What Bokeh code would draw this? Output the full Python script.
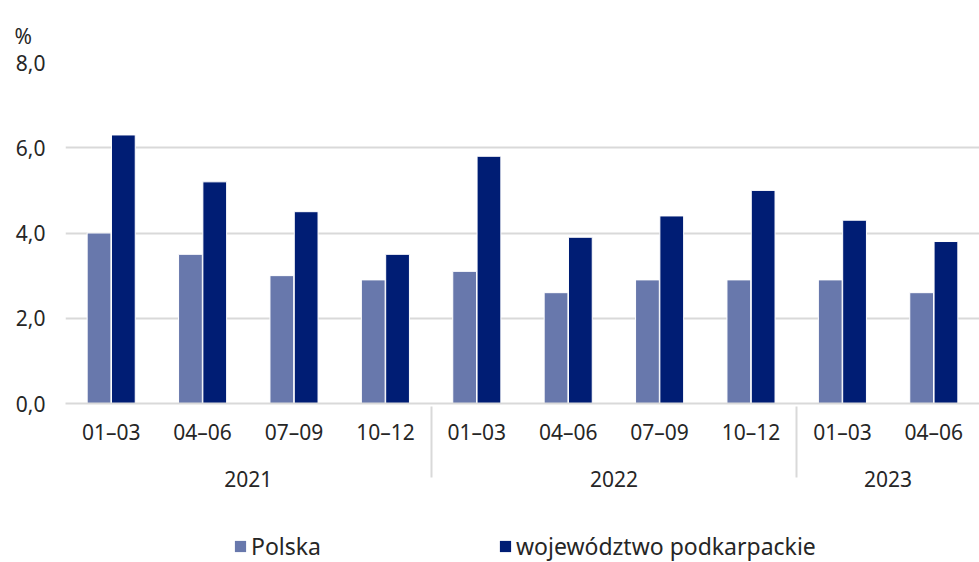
from bokeh.plotting import figure
from bokeh.layouts import column
from bokeh.models import ColumnDataSource, FactorRange, Range1d, FixedTicker, Legend, LegendItem
from bokeh.transform import dodge
from bokeh.embed import file_html
from bokeh.resources import INLINE

years = ["2021", "2021", "2021", "2021", "2022", "2022", "2022", "2022", "2023", "2023"]
quarters = ["01–03", "04–06", "07–09", "10–12", "01–03", "04–06", "07–09", "10–12", "01–03", "04–06"]
polska = [4.0, 3.5, 3.0, 2.9, 3.1, 2.6, 2.9, 2.9, 2.9, 2.6]
podkarpackie = [6.3, 5.2, 4.5, 3.5, 5.8, 3.9, 4.4, 5.0, 4.3, 3.8]
y_ticks = [0, 2, 4, 6, 8]
y_tick_labels = ["0,0", "2,0", "4,0", "6,0", "8,0"]
series_names = ["Polska", "województwo podkarpackie"]

FONT = "Noto Sans"
TXT = "#262626"
GRID = "#D9D9D9"
C1 = "#6878AC"
C2 = "#001D74"

# a blank, tiny middle level adds a little room between the quarter and year rows
factors = [(y, " ", q) for y, q in zip(years, quarters)]
src = ColumnDataSource(dict(x=factors, polska=polska, podk=podkarpackie))
xr = FactorRange(*factors, group_padding=0, subgroup_padding=0, factor_padding=0, range_padding=0)

p = figure(width=979, height=520, output_backend="svg", toolbar_location=None,
           x_range=xr, y_range=Range1d(0, 8))

r1 = p.vbar(x=dodge("x", -0.133, range=p.x_range), top="polska", width=0.26, source=src,
            fill_color=C1, line_color="white", line_width=1)
r2 = p.vbar(x=dodge("x", 0.133, range=p.x_range), top="podk", width=0.26, source=src,
            fill_color=C2, line_color="white", line_width=1)

p.min_border_left = 65
p.min_border_right = 0
p.min_border_top = 62
p.min_border_bottom = 117
p.outline_line_color = None
p.background_fill_color = "white"

p.title.text = "%"
p.title.text_font = FONT
p.title.text_font_size = "21px"
p.title.text_font_style = "normal"
p.title.text_color = TXT
p.title.align = "left"
p.title.vertical_align = "top"
p.title.offset = -51
p.title.standoff = 22

p.xgrid.grid_line_color = None
p.ygrid.grid_line_color = GRID
p.ygrid.grid_line_width = 2

ya = p.yaxis[0]
ya.ticker = FixedTicker(ticks=y_ticks)
ya.major_label_overrides = {t: l for t, l in zip(y_ticks, y_tick_labels)}
ya.axis_line_color = None
ya.major_tick_line_color = None
ya.minor_tick_line_color = None
ya.major_label_text_font = FONT
ya.major_label_text_font_size = "21px"
ya.major_label_text_color = TXT
ya.major_label_standoff = 14

xa = p.xaxis[0]
xa.axis_line_color = GRID
xa.axis_line_width = 2
xa.major_tick_line_color = None
xa.minor_tick_line_color = None
xa.major_label_text_font = FONT
xa.major_label_text_font_size = "21px"
xa.major_label_text_color = TXT
xa.major_label_standoff = 8
xa.subgroup_text_font_size = "3px"
xa.subgroup_text_color = TXT
xa.group_text_font = FONT
xa.group_text_font_size = "21px"
xa.group_text_color = TXT
xa.group_text_font_style = "normal"
xa.separator_line_color = GRID
xa.separator_line_width = 2

# legend strip below the chart; its proxy bars share the data but fall far outside its y range
lg = figure(width=979, height=42, output_backend="svg", toolbar_location=None,
            x_range=xr, y_range=Range1d(50, 51),
            x_axis_location=None, y_axis_location=None,
            min_border_left=65, min_border_right=0, min_border_top=0, min_border_bottom=0)
lg.outline_line_color = None
lg.grid.grid_line_color = None
d1 = lg.vbar(x="x", top="polska", width=0.1, source=src, fill_color=C1, line_color=None)
d2 = lg.vbar(x="x", top="podk", width=0.1, source=src, fill_color=C2, line_color=None)
legend = Legend(items=[LegendItem(label=series_names[0], renderers=[d1]),
                       LegendItem(label=series_names[1], renderers=[d2])],
                orientation="horizontal", location=(168, 0),
                label_text_font=FONT, label_text_font_size="23px", label_text_color=TXT,
                glyph_width=14, glyph_height=14, label_standoff=4, spacing=177,
                border_line_color=None, background_fill_alpha=0, margin=0, padding=0)
lg.add_layout(legend, "center")

layout = column(p, lg, spacing=0)
open("out.html", "w").write(file_html(layout, INLINE))
